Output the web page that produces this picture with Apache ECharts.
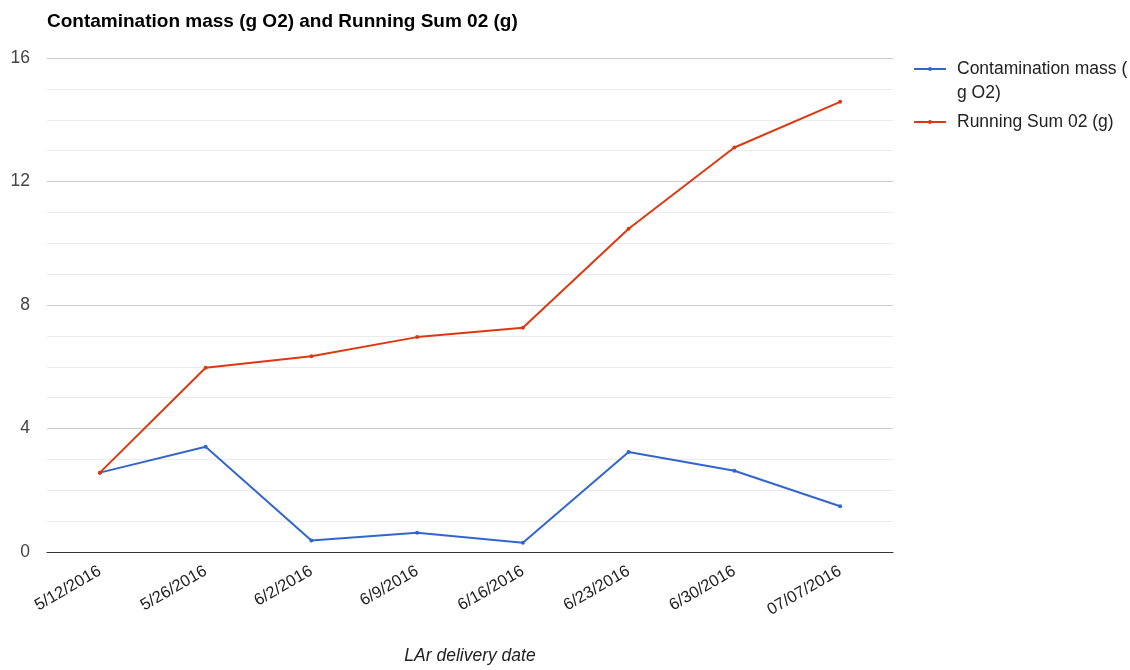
<!DOCTYPE html>
<html>
<head>
<meta charset="utf-8">
<script src="https://cdn.jsdelivr.net/npm/echarts@6/dist/echarts.min.js"></script>
<style>
  html, body { margin: 0; padding: 0; background: #fff; }
  #chart { width: 1130px; height: 670px; }
</style>
</head>
<body>
<div id="chart"></div>
<script>
// Delivery dates on the category axis
const deliveryDates = ['5/12/2016', '5/26/2016', '6/2/2016', '6/9/2016', '6/16/2016', '6/23/2016', '6/30/2016', '07/07/2016'];
// Oxygen contamination per delivery (g O2)
const contaminationMass = [2.57, 3.41, 0.37, 0.62, 0.30, 3.24, 2.63, 1.48];
// Cumulative oxygen (g)
const runningSum = [2.57, 5.97, 6.34, 6.96, 7.26, 10.47, 13.10, 14.58];
// Value axis ticks
const yTicks = [0, 4, 8, 12, 16];

const FONT = '"Liberation Sans", Arial, sans-serif';
const chart = echarts.init(document.getElementById('chart'), null, { renderer: 'canvas' });

chart.setOption({
  backgroundColor: '#ffffff',
  animation: false,
  title: {
    text: 'Contamination mass (g O2) and Running Sum 02 (g)',
    left: 42,
    top: 7,
    textStyle: { fontFamily: FONT, fontSize: 19, fontWeight: 'bold', color: '#000' }
  },
  legend: {
    orient: 'vertical',
    left: 908,
    top: 28,
    itemWidth: 32,
    itemHeight: 5,
    itemGap: 5,
    textStyle: { fontFamily: FONT, fontSize: 17.5, color: '#222', lineHeight: 24, padding: [0, 0, 0, 6] },
    data: ['Contamination mass (g O2)', 'Running Sum 02 (g)'],
    // long name wraps onto a second line, first line kept level with the icon
    formatter: function (name) {
      return name === 'Contamination mass (g O2)' ? '\nContamination mass (\ng O2)' : name;
    }
  },
  grid: { left: 47, right: 237, top: 58, height: 499, containLabel: false },
  xAxis: {
    type: 'category',
    data: deliveryDates,
    boundaryGap: true,
    name: 'LAr delivery date',
    nameLocation: 'middle',
    nameGap: 95,
    nameTextStyle: { fontFamily: FONT, fontSize: 17.5, fontStyle: 'italic', color: '#222' },
    axisLine: { show: true, lineStyle: { color: '#333', width: 1 } },
    axisTick: { show: false },
    axisLabel: {
      rotate: 30,
      margin: 18,
      fontFamily: FONT,
      fontSize: 16.5,
      color: '#222'
    },
    splitLine: { show: false }
  },
  yAxis: {
    type: 'value',
    min: yTicks[0],
    max: yTicks[yTicks.length - 1],
    interval: yTicks[1] - yTicks[0],
    axisLine: { show: false },
    axisTick: { show: false },
    axisLabel: { margin: 17, fontFamily: FONT, fontSize: 17.5, color: '#444' },
    splitLine: { show: true, lineStyle: { color: '#cccccc', width: 1 } },
    minorTick: { show: false, splitNumber: 4 },
    minorSplitLine: { show: true, lineStyle: { color: '#ebebeb', width: 1 } }
  },
  series: [
    {
      name: 'Contamination mass (g O2)',
      type: 'line',
      data: contaminationMass,
      color: '#3366cc',
      symbol: 'circle',
      symbolSize: 4,
      lineStyle: { width: 2, color: '#3366cc' },
      itemStyle: { color: '#3366cc' },
      z: 2
    },
    {
      name: 'Running Sum 02 (g)',
      type: 'line',
      data: runningSum,
      color: '#dc3912',
      symbol: 'circle',
      symbolSize: 4,
      lineStyle: { width: 2, color: '#dc3912' },
      itemStyle: { color: '#dc3912' },
      z: 3
    }
  ]
});
</script>
</body>
</html>
